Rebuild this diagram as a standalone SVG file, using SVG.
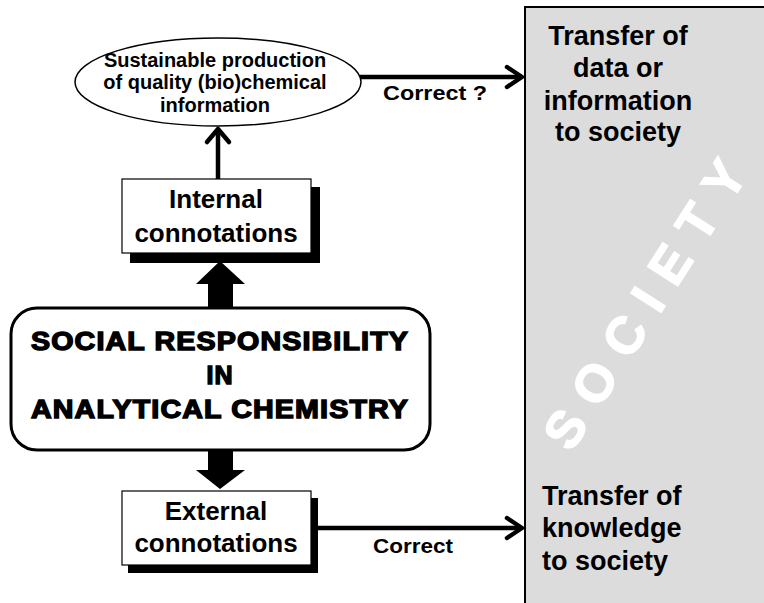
<svg xmlns="http://www.w3.org/2000/svg" width="764" height="603" viewBox="0 0 764 603">
<style>
.t{font-family:"Liberation Sans",Arial,sans-serif;font-weight:bold;fill:#000;text-anchor:middle}
.box{fill:#fff;stroke:#000;stroke-width:1.2}
.sh{fill:#000}
.ln{stroke:#000;stroke-width:4.5;fill:none}
.hd{stroke:#000;stroke-width:4.5;fill:none;stroke-linecap:round;stroke-linejoin:round}
.blk{fill:#000}
</style>
<rect width="764" height="603" fill="#fff"/>
<g id="society">
<rect x="525" y="7" width="260" height="610" fill="#dcdcdc" stroke="#000" stroke-width="2"/>
<text class="t" x="0" y="0" font-size="52" style="fill:#fff" stroke="#fff" stroke-width="1.5" letter-spacing="17" transform="translate(645 304) rotate(-57.5)" dx="8" dy="18">SOCIETY</text>
<text class="t" font-size="27"><tspan x="618" y="45">Transfer of</tspan><tspan x="618" y="77">data or</tspan><tspan x="618" y="110">information</tspan><tspan x="618" y="141">to society</tspan></text>
<text class="t" font-size="27" style="text-anchor:start"><tspan x="542" y="505">Transfer of</tspan><tspan x="542" y="537">knowledge</tspan><tspan x="542" y="570">to society</tspan></text>
</g>
<g id="connectors">
<line class="ln" x1="218" y1="179" x2="218" y2="131"/>
<polyline class="hd" points="207,142 218,129 229,142"/>
<line class="ln" x1="360" y1="77" x2="522" y2="77"/>
<polyline class="hd" points="507,67 522,77 507,87"/>
<text class="t" font-size="21" x="435" y="100" textLength="104" lengthAdjust="spacingAndGlyphs">Correct ?</text>
<line class="ln" x1="318" y1="528" x2="522" y2="528"/>
<polyline class="hd" points="507,518 522,528 507,538"/>
<text class="t" font-size="21" x="413" y="553" textLength="80" lengthAdjust="spacingAndGlyphs">Correct</text>
<polygon class="blk" points="208,310 233,310 233,284 245,284 220,261 196,284 208,284"/>
<polygon class="blk" points="208,449 233,449 233,470 245,470 220,489 196,470 208,470"/>
</g>
<g id="ellipse">
<ellipse cx="218" cy="82" rx="143" ry="44" fill="#fff" stroke="#000" stroke-width="1.5"/>
<text class="t" font-size="20"><tspan x="215" y="67">Sustainable production</tspan><tspan x="215" y="89">of quality (bio)chemical</tspan><tspan x="215" y="112">information</tspan></text>
</g>
<g id="internal">
<rect class="sh" x="130" y="187" width="190" height="76"/>
<rect class="box" x="122" y="179" width="189" height="74"/>
<text class="t" font-size="26"><tspan x="216" y="208">Internal</tspan><tspan x="216" y="242">connotations</tspan></text>
</g>
<g id="external">
<rect class="sh" x="128" y="498" width="190" height="75"/>
<rect class="box" x="122" y="491" width="189" height="74"/>
<text class="t" font-size="26"><tspan x="216" y="520">External</tspan><tspan x="216" y="552">connotations</tspan></text>
</g>
<g id="main">
<rect x="11" y="308" width="419" height="142" rx="26" fill="#fff" stroke="#000" stroke-width="3"/>
<text class="t" font-size="25" stroke="#000" stroke-width="1.4" letter-spacing="1"><tspan x="220" y="350" textLength="378" lengthAdjust="spacingAndGlyphs">SOCIAL RESPONSIBILITY</tspan><tspan x="220" y="384">IN</tspan><tspan x="220" y="418" textLength="378" lengthAdjust="spacingAndGlyphs">ANALYTICAL CHEMISTRY</tspan></text>
</g>
</svg>
